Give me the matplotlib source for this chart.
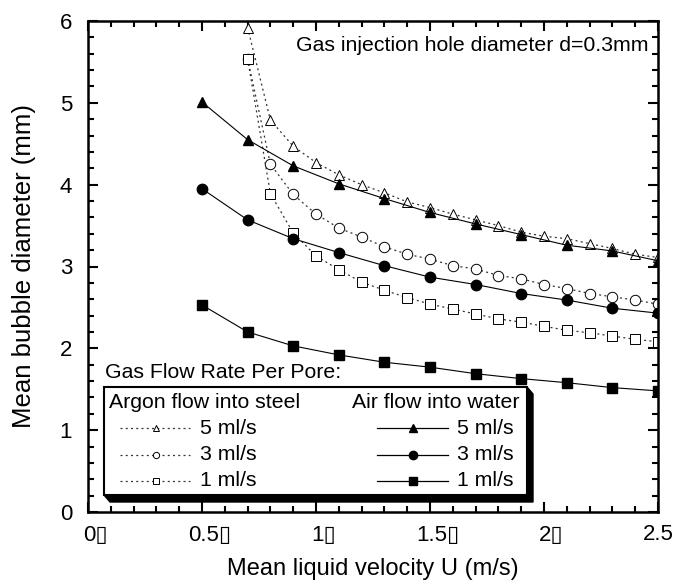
import matplotlib
matplotlib.use("Agg")
import matplotlib.pyplot as plt
from matplotlib.lines import Line2D
from matplotlib.patches import Rectangle, Polygon
from matplotlib.ticker import MultipleLocator
from matplotlib.transforms import ScaledTranslation

plt.rcParams['font.family'] = ['Liberation Sans', 'DejaVu Sans']

# ---- data ----
x_air = [0.5, 0.7, 0.9, 1.1, 1.3, 1.5, 1.7, 1.9, 2.1, 2.3, 2.5]
air_5 = [5.01, 4.55, 4.23, 4.01, 3.83, 3.66, 3.52, 3.39, 3.26, 3.19, 3.07]
air_3 = [3.95, 3.57, 3.34, 3.17, 3.01, 2.87, 2.78, 2.67, 2.59, 2.49, 2.43]
air_1 = [2.53, 2.20, 2.03, 1.92, 1.83, 1.77, 1.69, 1.63, 1.58, 1.52, 1.48]

x_argon = [0.7, 0.8, 0.9, 1.0, 1.1, 1.2, 1.3, 1.4, 1.5, 1.6, 1.7, 1.8, 1.9,
           2.0, 2.1, 2.2, 2.3, 2.4, 2.5]
argon_5 = [5.92, 4.79, 4.47, 4.27, 4.12, 4.00, 3.90, 3.79, 3.72, 3.64, 3.57,
           3.50, 3.42, 3.37, 3.34, 3.28, 3.22, 3.15, 3.11]
argon_3 = [5.54, 4.25, 3.88, 3.64, 3.47, 3.36, 3.24, 3.15, 3.09, 3.01, 2.97,
           2.89, 2.85, 2.78, 2.73, 2.67, 2.63, 2.59, 2.54]
argon_1 = [5.54, 3.89, 3.41, 3.13, 2.96, 2.81, 2.71, 2.62, 2.54, 2.48, 2.42,
           2.36, 2.32, 2.27, 2.22, 2.19, 2.15, 2.11, 2.08]

xticks = [0, 0.5, 1.0, 1.5, 2.0, 2.5]
xtick_labels = ["0\u25af", "0.5\u25af", "1\u25af", "1.5\u25af", "2\u25af", "2.5"]
yticks = [0, 1, 2, 3, 4, 5, 6]
rate_labels = ["5 ml/s", "3 ml/s", "1 ml/s"]

# ---- figure ----
W, H = 679, 587
fig = plt.figure(figsize=(W / 100, H / 100), dpi=100)
ax0, ax1, ay_top, ay_bot = 88, 658, 21, 512
ax = fig.add_axes([ax0 / W, 1 - ay_bot / H, (ax1 - ax0) / W, (ay_bot - ay_top) / H])

dot = (0, (1.6, 2.6))
ms = 7.5
# argon (open markers, dotted)
ax.plot(x_argon, argon_5, linestyle=dot, color='#333333', lw=0.9, marker='^',
        ms=ms, mfc='white', mec='black', mew=0.7)
ax.plot(x_argon, argon_3, linestyle=dot, color='#333333', lw=0.9, marker='o',
        ms=ms, mfc='white', mec='black', mew=0.7)
ax.plot(x_argon, argon_1, linestyle=dot, color='#333333', lw=0.9, marker='s',
        ms=ms - 0.6, mfc='white', mec='black', mew=0.7)
# air (filled markers, solid)
ax.plot(x_air, air_5, '-', color='black', lw=0.8, marker='^', ms=ms, mfc='black', mec='black')
ax.plot(x_air, air_3, '-', color='black', lw=0.8, marker='o', ms=ms, mfc='black', mec='black')
ax.plot(x_air, air_1, '-', color='black', lw=0.8, marker='s', ms=ms - 0.4, mfc='black', mec='black')

ax.set_xlim(0, 2.5)
ax.set_ylim(0, 6)
ax.set_xticks(xticks)
ax.set_xticklabels(xtick_labels)
ax.set_yticks(yticks)
ax.xaxis.set_minor_locator(MultipleLocator(0.1))
ax.yaxis.set_minor_locator(MultipleLocator(0.2))
ax.tick_params(which='both', direction='in', top=True, right=True, width=1.5,
               labelsize=16, colors='black')
ax.tick_params(which='major', length=7.5)
ax.tick_params(which='minor', length=4.5)
ax.tick_params(axis='x', pad=9)
ax.tick_params(axis='y', pad=11.5)
for s in ax.spines.values():
    s.set_linewidth(1.8)

# shift boxed labels so the number sits centred on its tick
shift = ScaledTranslation(5.5 / 72, 0, fig.dpi_scale_trans)
for lab in ax.get_xticklabels():
    if lab.get_text().endswith("\u25af"):
        lab.set_transform(lab.get_transform() + shift)

ax.set_xlabel("Mean liquid velocity U (m/s)", fontsize=17, labelpad=9)
ax.set_ylabel("Mean bubble diameter (mm)", fontsize=18.5, labelpad=17)

ax.text(0.984, 0.950, "Gas injection hole diameter d=0.3mm", transform=ax.transAxes,
        ha='right', va='center', fontsize=15.3)

# ---- legend (manual) ----
def fx(px):
    return (px - ax0) / (ax1 - ax0)

def fy(py):
    return (ay_bot - py) / (ay_bot - ay_top)

bx0, bx1, by0, by1 = fx(104), fx(527), fy(495), fy(387)
dxs, dys = 6 / (ax1 - ax0), 7 / (ay_bot - ay_top)
shadow = Polygon([(bx0, by0), (bx0 + dxs, by0 - dys), (bx1 + dxs, by0 - dys),
                  (bx1 + dxs, by1 - dys), (bx1, by1)], closed=True,
                 transform=ax.transAxes, facecolor='black', edgecolor='black',
                 zorder=9, clip_on=False)
ax.add_patch(shadow)
box = Rectangle((bx0, by0), bx1 - bx0, by1 - by0, transform=ax.transAxes,
                facecolor='white', edgecolor='black', lw=1.5, zorder=10, clip_on=False)
ax.add_patch(box)

fs = 15.3
ax.text(fx(105), fy(373), "Gas Flow Rate Per Pore:", transform=ax.transAxes,
        ha='left', va='center', fontsize=fs, zorder=11)
ax.text(fx(109), fy(402), "Argon flow into steel", transform=ax.transAxes,
        ha='left', va='center', fontsize=fs, zorder=11)
ax.text(fx(352), fy(402), "Air flow into water", transform=ax.transAxes,
        ha='left', va='center', fontsize=fs, zorder=11)

rows = [428, 455, 481]
mk = ['^', 'o', 's']
for r, m, lab in zip(rows, mk, rate_labels):
    yy = fy(r)
    ax.add_line(Line2D([fx(120), fx(190)], [yy, yy], transform=ax.transAxes,
                       linestyle=dot, color='#333333', lw=0.9, zorder=11))
    ax.add_line(Line2D([fx(156)], [yy], transform=ax.transAxes, marker=m, ms=4.5,
                       mfc='white', mec='black', mew=0.7, zorder=12))
    ax.text(fx(200), yy, lab, transform=ax.transAxes, ha='left', va='center',
            fontsize=fs, zorder=11)
    ax.add_line(Line2D([fx(377), fx(448)], [yy, yy], transform=ax.transAxes,
                       color='black', lw=0.9, zorder=11))
    ax.add_line(Line2D([fx(413)], [yy], transform=ax.transAxes, marker=m, ms=6,
                       mfc='black', mec='black', zorder=12))
    ax.text(fx(457), yy, lab, transform=ax.transAxes, ha='left', va='center',
            fontsize=fs, zorder=11)

fig.savefig("out.png", dpi=100)
